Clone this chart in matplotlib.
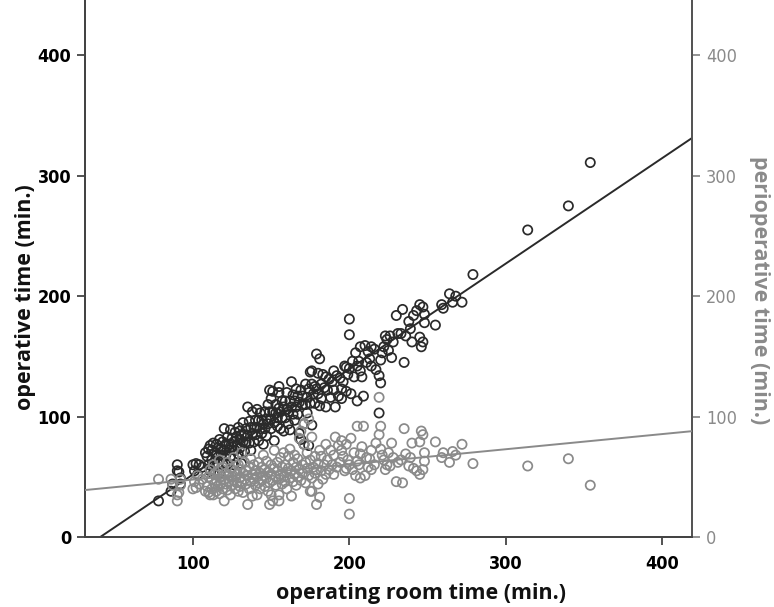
import numpy as np
import matplotlib
matplotlib.use("Agg")
import matplotlib.pyplot as plt

# operating room time (min.)
or_time = [78, 86, 87, 90, 90, 91, 92, 92, 100, 101, 102, 103, 104, 106, 108, 109, 110, 110, 111, 111,
           112, 112, 113, 113, 114, 114, 115, 115, 116, 116, 117, 117, 118, 118, 119, 119, 120, 120,
           121, 121, 122, 122, 123, 123, 124, 124, 125, 125, 126, 126, 127, 127, 128, 128, 129, 129,
           130, 130, 130, 131, 131, 132, 132, 133, 133, 134, 134, 135, 135, 136, 136, 137, 137, 138,
           138, 139, 139, 140, 140, 141, 141, 142, 142, 143, 143, 144, 144, 145, 145, 146, 146, 147,
           147, 148, 148, 149, 149, 150, 150, 150, 151, 151, 152, 152, 153, 153, 154, 154, 155, 155,
           155, 156, 156, 157, 157, 158, 158, 159, 159, 160, 160, 161, 161, 162, 162, 163, 163, 164,
           164, 165, 165, 166, 166, 167, 167, 168, 168, 169, 169, 170, 170, 171, 171, 172, 172, 173,
           173, 174, 174, 175, 175, 176, 176, 176, 177, 178, 178, 179, 179, 180, 180, 181, 181, 182,
           182, 183, 184, 185, 185, 186, 187, 188, 189, 190, 190, 191, 192, 193, 194, 195, 195, 196,
           197, 198, 198, 199, 200, 200, 200, 201, 202, 203, 204, 205, 205, 206, 207, 207, 208, 209,
           210, 211, 212, 213, 214, 214, 216, 217, 219, 219, 220, 220, 221, 222, 223, 224, 225, 226,
           227, 228, 230, 231, 233, 234, 235, 236, 238, 239, 240, 241, 243, 245, 245, 246, 247, 247,
           248, 248, 255, 259, 260, 264, 266, 268, 272, 279, 314, 340, 354]

# operative time (min.)
op_time = [30, 38, 44, 60, 55, 54, 49, 44, 60, 55, 61, 52, 60, 58, 70, 67, 60, 73, 76, 55,
           72, 64, 78, 53, 70, 62, 77, 68, 61, 74, 53, 81, 68, 73, 61, 79, 90, 72,
           68, 77, 60, 83, 72, 77, 67, 89, 82, 75, 60, 79, 87, 72, 76, 83, 69, 91,
           81, 74, 88, 61, 85, 79, 95, 85, 71, 90, 79, 108, 84, 96, 78, 91, 72, 86,
           104, 91, 79, 97, 85, 106, 91, 80, 97, 90, 103, 86, 97, 77, 94, 104, 90, 98,
           84, 110, 94, 104, 122, 98, 90, 115, 121, 104, 95, 80, 103, 110, 92, 99, 125, 120,
           107, 90, 104, 113, 99, 88, 108, 99, 113, 106, 120, 94, 104, 113, 89, 129, 108, 102,
           118, 113, 97, 108, 123, 102, 117, 86, 112, 81, 122, 110, 117, 77, 94, 110, 127, 116,
           103, 76, 123, 111, 137, 93, 127, 138, 119, 111, 125, 152, 123, 119, 136, 148, 109, 127,
           115, 135, 124, 108, 133, 122, 131, 116, 129, 138, 122, 108, 134, 117, 132, 123, 115, 129,
           142, 121, 141, 135, 181, 168, 140, 119, 146, 133, 153, 113, 142, 146, 158, 138, 133, 117,
           159, 145, 154, 148, 142, 158, 156, 139, 103, 134, 147, 128, 153, 158, 167, 164, 155, 167,
           149, 162, 184, 169, 169, 189, 145, 167, 179, 173, 162, 184, 188, 193, 166, 158, 191, 162,
           185, 178, 176, 193, 190, 202, 195, 200, 195, 218, 255, 275, 311]

# perioperative time (min.)
peri_time = [48, 48, 43, 30, 35, 37, 43, 48, 40, 46, 41, 51, 44, 48, 38, 42, 50, 37, 35, 56,
             40, 48, 35, 60, 44, 52, 38, 47, 55, 42, 64, 36, 50, 45, 58, 40, 30, 48,
             53, 44, 62, 39, 51, 46, 57, 35, 43, 50, 66, 47, 40, 55, 52, 45, 60, 38,
             49, 56, 42, 70, 46, 53, 37, 48, 62, 44, 55, 27, 51, 40, 58, 46, 65, 52,
             34, 48, 60, 43, 55, 35, 50, 62, 45, 53, 40, 58, 47, 68, 51, 42, 56, 49,
             63, 38, 54, 45, 27, 52, 60, 35, 30, 47, 57, 72, 50, 43, 62, 55, 30, 35,
             48, 66, 52, 44, 58, 70, 50, 60, 46, 54, 40, 67, 57, 49, 73, 34, 55, 62,
             46, 52, 68, 58, 43, 65, 50, 82, 56, 88, 47, 60, 53, 94, 77, 62, 45, 57,
             70, 98, 51, 64, 38, 83, 49, 38, 58, 67, 53, 27, 56, 61, 44, 33, 72, 55,
             67, 48, 60, 77, 52, 64, 56, 72, 60, 52, 68, 83, 58, 76, 62, 72, 80, 67,
             55, 77, 57, 64, 19, 32, 60, 82, 56, 70, 51, 92, 63, 60, 49, 69, 75, 92,
             51, 66, 58, 65, 72, 56, 60, 78, 116, 85, 73, 92, 68, 64, 56, 60, 70, 59,
             78, 66, 46, 62, 64, 45, 90, 69, 59, 66, 78, 57, 55, 52, 79, 88, 56, 85,
             63, 70, 79, 66, 70, 62, 71, 68, 77, 61, 59, 65, 43]

# regression lines (slope, intercept)
op_fit = (0.876, -35.7)
peri_fit = (0.126, 35.1)

y_ticks = [0, 100, 200, 300, 400]
x_ticks = [100, 200, 300, 400]

dark = '#2a2a2a'
grey = '#8a8a8a'
label_font = ['Open Sans', 'DejaVu Sans']

fig = plt.figure(figsize=(7.74, 6.07), dpi=100)
ax = fig.add_axes([0.1098, 0.1153, 0.7842, 0.8847])
ax2 = ax.twinx()

xmin, xmax = 31, 419
ax.set_xlim(xmin, xmax)
ax.set_ylim(0, 446)
ax2.set_ylim(0, 446)

ax.scatter(or_time, op_time, s=44, facecolors='none', edgecolors=dark, linewidths=1.25, zorder=3)
ax2.scatter(or_time, peri_time, s=44, facecolors='none', edgecolors=grey, linewidths=1.25, zorder=2)

xs = np.array([xmin, xmax])
ax.plot(xs, op_fit[0] * xs + op_fit[1], color=dark, lw=1.4, zorder=4)
ax2.plot(xs, peri_fit[0] * xs + peri_fit[1], color=grey, lw=1.4, zorder=4)

ax.set_xticks(x_ticks)
ax.set_yticks(y_ticks)
ax2.set_yticks(y_ticks)
ax.set_xticklabels([str(t) for t in x_ticks], family='DejaVu Sans', stretch='condensed',
                   weight='bold', fontsize=13)
ax.set_yticklabels([str(t) for t in y_ticks], family='DejaVu Sans', stretch='condensed',
                   weight='bold', fontsize=13)
ax2.set_yticklabels([str(t) for t in y_ticks], family='DejaVu Sans', stretch='condensed',
                    fontsize=13, color=grey)

ax.tick_params(axis='both', direction='out', length=6, width=1.3, color='#444444', pad=4)
ax.tick_params(axis='x', pad=7)
ax2.tick_params(axis='y', direction='out', length=6, width=1.3, color=grey, pad=4)

for a in (ax, ax2):
    a.spines['top'].set_visible(False)
    a.spines['left'].set_color('#444444')
    a.spines['bottom'].set_color('#444444')
    a.spines['right'].set_color('#555555')
    for s in a.spines.values():
        s.set_linewidth(1.4)

ax.set_xlabel('operating room time (min.)', family=label_font, weight='bold', fontsize=15.5, color='#111111')
ax.set_ylabel('operative time (min.)', family=label_font, weight='bold', fontsize=15.5, color='#111111')
ax2.set_ylabel('perioperative time (min.)', family=label_font, weight='bold', fontsize=15.5,
               color=grey, rotation=270)
ax.xaxis.set_label_coords(0.553, -0.085)
ax.yaxis.set_label_coords(-0.081, 0.447)
ax2.yaxis.set_label_coords(1.128, 0.46)

fig.savefig('out.png', dpi=100)
